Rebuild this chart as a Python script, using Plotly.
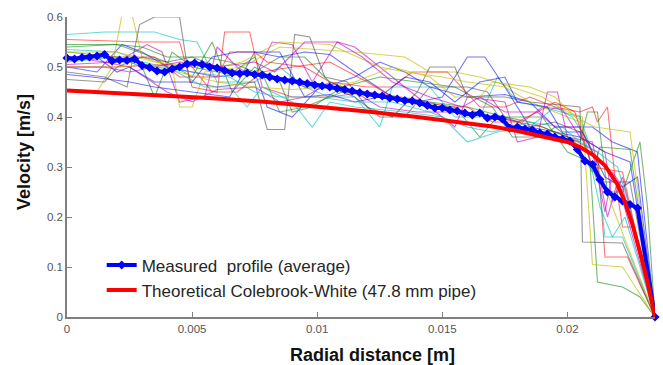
import plotly.graph_objects as go

# ---------------- data ----------------
# average measured profile (blue)
avg_x = [0.0000, 0.0003, 0.0006, 0.0009, 0.0012, 0.0015, 0.0018, 0.0021, 0.0024, 0.0027,
         0.0030, 0.0033, 0.0036, 0.0039, 0.0042, 0.0045, 0.0048, 0.0051, 0.0054, 0.0057,
         0.0060, 0.0063, 0.0066, 0.0069, 0.0072, 0.0075, 0.0078, 0.0081, 0.0084, 0.0087,
         0.0090, 0.0093, 0.0096, 0.0099, 0.0102, 0.0105, 0.0108, 0.0111, 0.0114, 0.0117,
         0.0120, 0.0123, 0.0126, 0.0129, 0.0132, 0.0135, 0.0138, 0.0141, 0.0144, 0.0147,
         0.0150, 0.0153, 0.0156, 0.0159, 0.0162, 0.0165, 0.0168, 0.0171, 0.0174, 0.0177,
         0.0180, 0.0183, 0.0186, 0.0189, 0.0192, 0.0195, 0.0198, 0.0201, 0.0204, 0.0207,
         0.0210, 0.0213, 0.0216, 0.0219, 0.0222, 0.0225, 0.0228, 0.0235]
avg_v = [0.518, 0.516, 0.519, 0.520, 0.522, 0.525, 0.512, 0.514, 0.513, 0.516,
         0.503, 0.499, 0.492, 0.490, 0.496, 0.500, 0.506, 0.508, 0.505, 0.500,
         0.498, 0.493, 0.488, 0.487, 0.488, 0.485, 0.484, 0.480, 0.476, 0.474,
         0.472, 0.470, 0.467, 0.464, 0.462, 0.460, 0.457, 0.455, 0.452, 0.449,
         0.446, 0.444, 0.442, 0.438, 0.436, 0.433, 0.432, 0.428, 0.423, 0.418,
         0.418, 0.414, 0.412, 0.408, 0.404, 0.408, 0.398, 0.400, 0.396, 0.378,
         0.380, 0.376, 0.374, 0.368, 0.366, 0.360, 0.356, 0.352, 0.335, 0.312,
         0.305, 0.275, 0.250, 0.240, 0.232, 0.225, 0.218, 0.000]

# theoretical Colebrook-White profile (red)
theo_x = [0.0000, 0.0020, 0.0040, 0.0060, 0.0080, 0.0100, 0.0120, 0.0140, 0.0160, 0.0170,
          0.0180, 0.0190, 0.0200, 0.0205, 0.0210, 0.0215, 0.0220, 0.0223, 0.0226, 0.0229,
          0.0232, 0.0235]
theo_v = [0.453, 0.448, 0.443, 0.437, 0.430, 0.421, 0.411, 0.400, 0.388, 0.381,
          0.372, 0.362, 0.350, 0.340, 0.325, 0.303, 0.265, 0.230, 0.185, 0.130,
          0.070, 0.000]

# individual measured profiles (thin lines)
p01_x = [0, 0.0012, 0.0022, 0.0030, 0.0040, 0.0060, 0.0075, 0.0080, 0.0090, 0.0100, 0.0115, 0.0125, 0.0135, 0.0145, 0.0160, 0.0175, 0.0185, 0.0195, 0.0210, 0.0218, 0.0228, 0.0235]
p01_v = [0.50, 0.49, 0.545, 0.53, 0.50, 0.48, 0.49, 0.42, 0.40, 0.455, 0.48, 0.51, 0.49, 0.46, 0.44, 0.445, 0.43, 0.38, 0.38, 0.35, 0.33, 0]
p02_x = [0, 0.0020, 0.0030, 0.0035, 0.0042, 0.0050, 0.0065, 0.0075, 0.0085, 0.0095, 0.0110, 0.0125, 0.0140, 0.0155, 0.0165, 0.0172, 0.0190, 0.0200, 0.0209, 0.0212, 0.0222, 0.0229, 0.0235]
p02_v = [0.53, 0.52, 0.50, 0.44, 0.53, 0.50, 0.485, 0.52, 0.41, 0.42, 0.45, 0.44, 0.43, 0.42, 0.36, 0.40, 0.40, 0.33, 0.31, 0.07, 0.06, 0.04, 0]
p03_x = [0, 0.0030, 0.0045, 0.0050, 0.0060, 0.0063, 0.0073, 0.0078, 0.0090, 0.0105, 0.0120, 0.0140, 0.0160, 0.0175, 0.0190, 0.0200, 0.0212, 0.0215, 0.0224, 0.0235]
p03_v = [0.555, 0.55, 0.55, 0.46, 0.45, 0.57, 0.57, 0.46, 0.44, 0.44, 0.45, 0.435, 0.41, 0.395, 0.38, 0.36, 0.33, 0.12, 0.12, 0]
p04_x = [0, 0.0015, 0.0035, 0.0045, 0.0052, 0.0060, 0.0075, 0.0085, 0.0095, 0.0105, 0.0115, 0.0125, 0.0130, 0.0145, 0.0155, 0.0165, 0.0172, 0.0180, 0.0190, 0.0205, 0.0212, 0.0215, 0.0222, 0.0235]
p04_v = [0.565, 0.57, 0.57, 0.555, 0.55, 0.47, 0.47, 0.50, 0.46, 0.44, 0.44, 0.38, 0.46, 0.46, 0.40, 0.40, 0.48, 0.43, 0.42, 0.40, 0.30, 0.16, 0.16, 0]
p05_x = [0, 0.0020, 0.0032, 0.0038, 0.0045, 0.0055, 0.0060, 0.0068, 0.0075, 0.0082, 0.0090, 0.0098, 0.0108, 0.0115, 0.0130, 0.0145, 0.0155, 0.0160, 0.0175, 0.0180, 0.0188, 0.0192, 0.0196, 0.0200, 0.0210, 0.0216, 0.0220, 0.0235]
p05_v = [0.505, 0.51, 0.545, 0.53, 0.43, 0.44, 0.54, 0.50, 0.48, 0.55, 0.545, 0.47, 0.55, 0.54, 0.48, 0.42, 0.38, 0.44, 0.43, 0.35, 0.36, 0.45, 0.45, 0.36, 0.35, 0.20, 0.27, 0]
p06_x = [0, 0.0012, 0.0018, 0.0022, 0.0026, 0.0030, 0.0042, 0.0045, 0.0050, 0.0055, 0.0070, 0.0085, 0.0115, 0.0135, 0.0145, 0.0155, 0.0165, 0.0190, 0.0200, 0.0206, 0.0210, 0.0222, 0.0235]
p06_v = [0.455, 0.45, 0.50, 0.605, 0.605, 0.52, 0.50, 0.42, 0.42, 0.49, 0.50, 0.54, 0.53, 0.52, 0.49, 0.49, 0.48, 0.44, 0.41, 0.40, 0.105, 0.10, 0]
p07_x = [0, 0.0015, 0.0024, 0.0029, 0.0035, 0.0045, 0.0049, 0.0060, 0.0075, 0.0080, 0.0087, 0.0091, 0.0097, 0.0103, 0.0112, 0.0120, 0.0130, 0.0140, 0.0145, 0.0155, 0.0160, 0.0175, 0.0185, 0.0205, 0.0206, 0.0222, 0.0235]
p07_v = [0.49, 0.48, 0.46, 0.585, 0.60, 0.60, 0.47, 0.46, 0.47, 0.375, 0.375, 0.565, 0.56, 0.48, 0.47, 0.42, 0.40, 0.45, 0.50, 0.50, 0.44, 0.44, 0.43, 0.42, 0.15, 0.148, 0]
p08_x = [0, 0.0010, 0.0025, 0.0035, 0.0050, 0.0065, 0.0075, 0.0085, 0.0095, 0.0105, 0.0115, 0.0130, 0.0140, 0.0150, 0.0160, 0.0167, 0.0175, 0.0185, 0.0195, 0.0205, 0.0215, 0.0225, 0.0235]
p08_v = [0.485, 0.48, 0.47, 0.46, 0.45, 0.44, 0.53, 0.52, 0.53, 0.525, 0.49, 0.44, 0.43, 0.44, 0.52, 0.52, 0.46, 0.38, 0.37, 0.36, 0.33, 0.31, 0]
p09_x = [0, 0.0020, 0.0040, 0.0050, 0.0058, 0.0066, 0.0075, 0.0085, 0.0090, 0.0098, 0.0110, 0.0125, 0.0140, 0.0155, 0.0170, 0.0178, 0.0190, 0.0195, 0.0203, 0.0210, 0.0213, 0.0225, 0.0235]
p09_v = [0.54, 0.545, 0.51, 0.48, 0.55, 0.45, 0.50, 0.47, 0.41, 0.42, 0.46, 0.48, 0.47, 0.46, 0.42, 0.36, 0.36, 0.38, 0.35, 0.29, 0.34, 0.335, 0]
p10_x = [0, 0.0035, 0.0045, 0.0060, 0.0065, 0.0075, 0.0080, 0.0095, 0.0105, 0.0120, 0.0130, 0.0138, 0.0152, 0.0165, 0.0175, 0.0185, 0.0195, 0.0205, 0.0210, 0.0212, 0.0216, 0.0219, 0.0222, 0.0226, 0.0235]
p10_v = [0.52, 0.52, 0.48, 0.48, 0.53, 0.53, 0.51, 0.50, 0.47, 0.46, 0.46, 0.49, 0.49, 0.42, 0.42, 0.44, 0.42, 0.41, 0.42, 0.39, 0.42, 0.28, 0.18, 0.18, 0]
p11_x = [0, 0.0020, 0.0030, 0.0040, 0.0055, 0.0065, 0.0072, 0.0078, 0.0090, 0.0098, 0.0105, 0.0115, 0.0135, 0.0150, 0.0160, 0.0172, 0.0185, 0.0195, 0.0202, 0.0207, 0.0213, 0.0218, 0.0223, 0.0235]
p11_v = [0.535, 0.53, 0.51, 0.50, 0.46, 0.46, 0.42, 0.46, 0.43, 0.38, 0.43, 0.42, 0.41, 0.40, 0.35, 0.37, 0.38, 0.42, 0.40, 0.36, 0.22, 0.16, 0.20, 0]
p12_x = [0, 0.0015, 0.0025, 0.0040, 0.0050, 0.0060, 0.0075, 0.0085, 0.0095, 0.0105, 0.0115, 0.0125, 0.0140, 0.0158, 0.0170, 0.0182, 0.0190, 0.0198, 0.0205, 0.0215, 0.0218, 0.0222, 0.0235]
p12_v = [0.52, 0.51, 0.50, 0.45, 0.43, 0.455, 0.46, 0.43, 0.44, 0.47, 0.45, 0.42, 0.41, 0.41, 0.40, 0.39, 0.42, 0.415, 0.36, 0.33, 0.23, 0.28, 0]
p13_x = [0, 0.0020, 0.0035, 0.0045, 0.0060, 0.0070, 0.0085, 0.0105, 0.0125, 0.0135, 0.0150, 0.0160, 0.0175, 0.0185, 0.0195, 0.0205, 0.0212, 0.0218, 0.0235]
p13_v = [0.53, 0.53, 0.51, 0.505, 0.50, 0.51, 0.55, 0.545, 0.50, 0.49, 0.48, 0.47, 0.46, 0.43, 0.41, 0.39, 0.30, 0.22, 0]
p14_x = [0, 0.0015, 0.0020, 0.0030, 0.0040, 0.0050, 0.0060, 0.0070, 0.0085, 0.0095, 0.0105, 0.0115, 0.0125, 0.0135, 0.0145, 0.0160, 0.0168, 0.0175, 0.0185, 0.0195, 0.0205, 0.0212, 0.0225, 0.0235]
p14_v = [0.475, 0.47, 0.50, 0.52, 0.51, 0.52, 0.50, 0.49, 0.48, 0.46, 0.46, 0.44, 0.40, 0.40, 0.46, 0.46, 0.45, 0.40, 0.38, 0.39, 0.37, 0.27, 0.27, 0]
p15_x = [0, 0.0012, 0.0020, 0.0025, 0.0035, 0.0050, 0.0058, 0.0068, 0.0085, 0.0095, 0.0105, 0.0115, 0.0125, 0.0135, 0.0145, 0.0155, 0.0165, 0.0175, 0.0180, 0.0192, 0.0198, 0.0206, 0.0215, 0.0222, 0.0228, 0.0235]
p15_v = [0.52, 0.52, 0.49, 0.50, 0.47, 0.47, 0.52, 0.53, 0.53, 0.44, 0.445, 0.43, 0.44, 0.48, 0.47, 0.43, 0.47, 0.48, 0.43, 0.42, 0.37, 0.37, 0.28, 0.26, 0.28, 0]
p16_x = [0, 0.0020, 0.0030, 0.0035, 0.0040, 0.0055, 0.0065, 0.0075, 0.0085, 0.0095, 0.0105, 0.0115, 0.0130, 0.0145, 0.0160, 0.0175, 0.0185, 0.0195, 0.0205, 0.0208, 0.0212, 0.0216, 0.0222, 0.0229, 0.0232, 0.0235]
p16_v = [0.545, 0.545, 0.54, 0.53, 0.52, 0.52, 0.51, 0.49, 0.52, 0.52, 0.47, 0.45, 0.44, 0.43, 0.42, 0.40, 0.39, 0.37, 0.35, 0.41, 0.41, 0.25, 0.25, 0.35, 0.22, 0]
p17_x = [0, 0.0020, 0.0040, 0.0050, 0.0058, 0.0068, 0.0078, 0.0090, 0.0105, 0.0120, 0.0130, 0.0145, 0.0160, 0.0170, 0.0180, 0.0188, 0.0195, 0.0203, 0.0210, 0.0222, 0.0235]
p17_v = [0.50, 0.50, 0.505, 0.50, 0.45, 0.45, 0.49, 0.50, 0.51, 0.47, 0.44, 0.42, 0.42, 0.39, 0.39, 0.41, 0.43, 0.41, 0.30, 0.29, 0]
p18_x = [0, 0.0020, 0.0035, 0.0050, 0.0065, 0.0075, 0.0085, 0.0100, 0.0115, 0.0130, 0.0145, 0.0160, 0.0170, 0.0185, 0.0198, 0.0205, 0.0212, 0.0220, 0.0225, 0.0235]
p18_v = [0.51, 0.52, 0.50, 0.49, 0.48, 0.45, 0.44, 0.44, 0.43, 0.43, 0.41, 0.38, 0.37, 0.39, 0.38, 0.35, 0.33, 0.30, 0.22, 0]
p19_x = [0, 0.0015, 0.0025, 0.0035, 0.0045, 0.0060, 0.0075, 0.0083, 0.0095, 0.0108, 0.0118, 0.0130, 0.0145, 0.0158, 0.0165, 0.0175, 0.0188, 0.0195, 0.0205, 0.0210, 0.0215, 0.0218, 0.0222, 0.0235]
p19_v = [0.50, 0.50, 0.49, 0.50, 0.51, 0.50, 0.51, 0.49, 0.55, 0.55, 0.52, 0.47, 0.44, 0.42, 0.44, 0.41, 0.41, 0.38, 0.38, 0.33, 0.21, 0.29, 0.26, 0]
p20_x = [0, 0.0020, 0.0033, 0.0045, 0.0060, 0.0075, 0.0090, 0.0105, 0.0115, 0.0130, 0.0145, 0.0155, 0.0165, 0.0170, 0.0185, 0.0195, 0.0203, 0.0211, 0.0225, 0.0235]
p20_v = [0.50, 0.50, 0.505, 0.49, 0.47, 0.46, 0.455, 0.46, 0.47, 0.50, 0.48, 0.44, 0.44, 0.47, 0.46, 0.44, 0.40, 0.38, 0.37, 0]

profiles = [(p01_x, p01_v), (p02_x, p02_v), (p03_x, p03_v), (p04_x, p04_v), (p05_x, p05_v),
            (p06_x, p06_v), (p07_x, p07_v), (p08_x, p08_v), (p09_x, p09_v), (p10_x, p10_v),
            (p11_x, p11_v), (p12_x, p12_v), (p13_x, p13_v), (p14_x, p14_v), (p15_x, p15_v),
            (p16_x, p16_v), (p17_x, p17_v), (p18_x, p18_v), (p19_x, p19_v), (p20_x, p20_v)]

thin_colors = ["rgba(0,0,255,0.55)", "rgba(0,128,0,0.55)", "rgba(255,0,0,0.55)",
               "rgba(0,191,191,0.6)", "rgba(191,0,191,0.6)", "rgba(191,191,0,0.65)",
               "rgba(64,64,64,0.55)"]

x_ticks = [0, 0.005, 0.01, 0.015, 0.02]
x_ticklabels = ["0", "0.005", "0.01", "0.015", "0.02"]
y_ticks = [0, 0.1, 0.2, 0.3, 0.4, 0.5, 0.6]
y_ticklabels = ["0", "0.1", "0.2", "0.3", "0.4", "0.5", "0.6"]

x_title = "Radial distance [m]"
y_title = "Velocity [m/s]"

# ---------------- figure ----------------
fig = go.Figure()

for i, (px, pv) in enumerate(profiles):
    fig.add_trace(go.Scatter(x=px, y=pv, mode="lines",
                             line=dict(color=thin_colors[i % len(thin_colors)], width=1.1),
                             showlegend=False, hoverinfo="skip"))

fig.add_trace(go.Scatter(x=avg_x, y=avg_v, mode="lines+markers",
                         name="Measured  profile (average)",
                         line=dict(color="#0000ff", width=4),
                         marker=dict(symbol="diamond", size=7, color="#0000ff"),
                         cliponaxis=False))

fig.add_trace(go.Scatter(x=theo_x, y=theo_v, mode="lines",
                         name="Theoretical Colebrook-White (47.8 mm pipe)",
                         line=dict(color="#ff0000", width=4)))

FONT = "Arial, Liberation Sans, sans-serif"
axis_font = dict(family=FONT, size=11.5, color="#555555")
title_font = dict(family=FONT, size=18, color="#111111")

fig.update_layout(
    width=663, height=365,
    margin=dict(l=67, r=8, t=17, b=48),
    paper_bgcolor="white", plot_bgcolor="white",
    font=dict(family=FONT),
    xaxis=dict(range=[0, 0.0235], tickmode="array", tickvals=x_ticks, ticktext=x_ticklabels,
               ticks="inside", ticklen=5, tickcolor="#7f7f7f", showgrid=False, zeroline=False,
               showline=True, linecolor="#7f7f7f", linewidth=1.5, tickfont=axis_font),
    yaxis=dict(range=[0, 0.6], tickmode="array", tickvals=y_ticks, ticktext=y_ticklabels,
               ticks="inside", ticklen=5, tickcolor="#7f7f7f", showgrid=False, zeroline=False,
               showline=True, linecolor="#7f7f7f", linewidth=1.5, tickfont=axis_font),
    legend=dict(x=0.059, y=0.232, xanchor="left", yanchor="top",
                bgcolor="rgba(255,255,255,0)", borderwidth=0,
                font=dict(family=FONT, size=17, color="#262626"),
                tracegroupgap=0),
    annotations=[
        dict(text="<b>" + x_title + "</b>", xref="paper", yref="paper", x=0.519, y=-0.125,
             xanchor="center", yanchor="middle", showarrow=False, font=title_font),
        dict(text="<b>" + y_title + "</b>", xref="paper", yref="paper", x=-0.073, y=0.55,
             xanchor="center", yanchor="middle", showarrow=False, textangle=-90,
             font=title_font),
    ],
)

# remove the page's default 8px body margin so the figure fills the window exactly
fig.write_html("out.html", config={"displayModeBar": False},
               post_script="document.body.style.margin='0px';")
